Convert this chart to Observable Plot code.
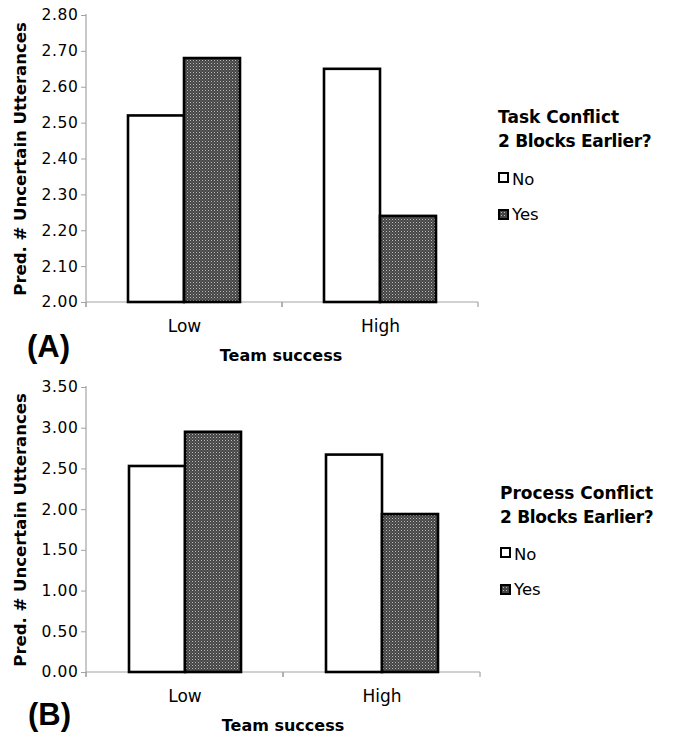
<!DOCTYPE html>
<html>
<head>
<meta charset="utf-8">
<script src="https://cdn.jsdelivr.net/npm/d3@7"></script>
<script src="https://cdn.jsdelivr.net/npm/@observablehq/plot@0.6"></script>
<style>
  body { margin: 0; background: #fff; }
  #wrap { position: relative; width: 673px; height: 737px; font-family: "DejaVu Sans", sans-serif; color: #000; overflow: hidden; }
  .panel { position: absolute; left: 0; }
  .lbl { position: absolute; white-space: nowrap; color: #000; }
  .xtitle { font-weight: bold; font-size: 16px; line-height: 16px; transform: translateX(-50%); }
  .tag { font-family: "Liberation Sans", Arial, sans-serif; font-weight: bold; font-size: 31px; line-height: 31px; }
  .ltitle { font-weight: bold; font-size: 17px; line-height: 24px; }
  .ltitle.second { letter-spacing: -0.3px; }
  .litem { font-size: 16.5px; line-height: 16px; }
  .swatch { position: absolute; width: 7px; height: 7px; border: 2px solid #000; }
  .sw-no { background: #fff; }
  .sw-yes { background-color: #454545; background-image: radial-gradient(#b8b8b8 0.6px, transparent 0.9px); background-size: 3px 3px; }
  g[aria-label="y-axis label"] text { font-weight: bold; font-size: 16.5px; }
  g[aria-label="y-axis tick label"] text { letter-spacing: 0.6px; }
</style>
</head>
<body>
<div id="wrap"></div>
<script>
// ---- data ----
const groups = ["Low", "High"];          // Team success
const series = ["No", "Yes"];            // Conflict 2 blocks earlier?
const taskNo = [2.52, 2.65];
const taskYes = [2.68, 2.24];
const processNo = [2.53, 2.67];
const processYes = [2.95, 1.94];
const ticksA = [2.00, 2.10, 2.20, 2.30, 2.40, 2.50, 2.60, 2.70, 2.80];
const ticksB = [0.00, 0.50, 1.00, 1.50, 2.00, 2.50, 3.00, 3.50];
const yLabel = "Pred. # Uncertain Utterances";
const xLabel = "Team success";
const legendTitleA = ["Task Conflict", "2 Blocks Earlier?"];
const legendTitleB = ["Process Conflict", "2 Blocks Earlier?"];
const panelTags = ["(A)", "(B)"];

const axisColor = "#a3a3a3";

function makeTable(noVals, yesVals) {
  return groups.flatMap((g, i) => [
    {group: g, series: series[0], value: noVals[i]},
    {group: g, series: series[1], value: yesVals[i]}
  ]);
}

function panel({noVals, yesVals, yTicks, patternId, height, marginTop, marginBottom, marginLeft, marginRight}) {
  const data = makeTable(noVals, yesVals);
  const yDomain = [yTicks[0], yTicks[yTicks.length - 1]];

  const baseline = Plot.ruleY(groups, {
    fx: d => d,
    y: () => yDomain[0],
    render(index, scales) {
      const [x0, x1] = scales.x.range();
      const yb = scales.y(yDomain[0]);
      const g = d3.create("svg:g").attr("stroke", axisColor).attr("stroke-width", 1.2).attr("fill", "none");
      g.append("line").attr("x1", x0).attr("x2", x1).attr("y1", yb).attr("y2", yb);
      for (const x of [x0, x1]) g.append("line").attr("x1", x).attr("x2", x).attr("y1", yb).attr("y2", yb + 5);
      return g.node();
    }
  });

  const yAxisLine = Plot.ruleX([groups[0]], {
    fx: d => d,
    x: () => series[0],
    render(index, scales) {
      const x0 = scales.x.range()[0];
      const g = d3.create("svg:g").attr("stroke", axisColor).attr("stroke-width", 1.2);
      g.append("line").attr("x1", x0).attr("x2", x0)
        .attr("y1", scales.y(yDomain[1]) - 1).attr("y2", scales.y(yDomain[0]) + 5);
      return g.node();
    }
  });

  const svg = Plot.plot({
    width: 673,
    height,
    marginTop, marginBottom, marginLeft, marginRight,
    style: {fontFamily: "DejaVu Sans, sans-serif", fontSize: "15px", color: "#000", background: "transparent"},
    fx: {domain: groups, padding: 0},
    x: {domain: series, paddingInner: 0, paddingOuter: 0.75, axis: null},
    y: {domain: yDomain},
    color: {domain: series, range: ["#ffffff", `url(#${patternId})`]},
    marks: [
      baseline,
      yAxisLine,
      Plot.barY(data, {
        fx: "group", x: "series",
        y1: () => yDomain[0], y2: "value",
        fill: "series", stroke: "#000", strokeWidth: 2.6
      }),
      Plot.axisY({
        ticks: yTicks,
        tickFormat: d => d.toFixed(2),
        tickSize: 5, tickPadding: 3,
        stroke: axisColor,
        fontSize: 15.5,
        label: yLabel, labelAnchor: "center", labelOffset: 72, labelArrow: false
      }),
      Plot.axisFx({anchor: "bottom", tickSize: 0, tickPadding: 17, fontSize: 17, label: null})
    ]
  });

  // pattern for the "Yes" bars
  const defs = d3.select(svg).insert("defs", ":first-child");
  const pat = defs.append("pattern").attr("id", patternId).attr("patternUnits", "userSpaceOnUse")
    .attr("width", 3).attr("height", 3);
  pat.append("rect").attr("width", 3).attr("height", 3).attr("fill", "#444444");
  pat.append("rect").attr("x", 0).attr("y", 0).attr("width", 1).attr("height", 1).attr("fill", "#bdbdbd");
  pat.append("rect").attr("x", 1.5).attr("y", 1.5).attr("width", 1).attr("height", 1).attr("fill", "#8a8a8a");
  return svg;
}

const wrap = document.getElementById("wrap");

const svgA = panel({noVals: taskNo, yesVals: taskYes, yTicks: ticksA, patternId: "dotsA",
  height: 368, marginTop: 15, marginBottom: 66, marginLeft: 85, marginRight: 195});
svgA.classList.add("panel");
svgA.style.top = "0px";
wrap.appendChild(svgA);

const svgB = panel({noVals: processNo, yesVals: processYes, yTicks: ticksB, patternId: "dotsB",
  height: 369, marginTop: 19, marginBottom: 65, marginLeft: 86, marginRight: 193});
svgB.classList.add("panel");
svgB.style.top = "368px";
wrap.appendChild(svgB);

function addLabel(text, cls, left, top) {
  const d = document.createElement("div");
  d.className = "lbl " + cls;
  d.textContent = text;
  d.style.left = left + "px";
  d.style.top = top + "px";
  wrap.appendChild(d);
  return d;
}
function addSwatch(cls, left, top) {
  const d = document.createElement("div");
  d.className = "swatch " + cls;
  d.style.left = left + "px";
  d.style.top = top + "px";
  wrap.appendChild(d);
}

// panel tags & x titles
addLabel(panelTags[0], "tag", 27, 331);
addLabel(panelTags[1], "tag", 28, 699);
addLabel(xLabel, "xtitle", 281, 348);
addLabel(xLabel, "xtitle", 283, 718);

// legends
function legend(title, left, top) {
  addLabel(title[0], "ltitle", left, top);
  addLabel(title[1], "ltitle second", left, top + 24);
  addSwatch("sw-no", left, top + 66.5);
  addLabel(series[0], "litem", left + 14, top + 66.5);
  addSwatch("sw-yes", left, top + 103.5);
  addLabel(series[1], "litem", left + 14, top + 101.5);
}
legend(legendTitleA, 498, 105);
legend(legendTitleB, 500, 480.5);
</script>
</body>
</html>
